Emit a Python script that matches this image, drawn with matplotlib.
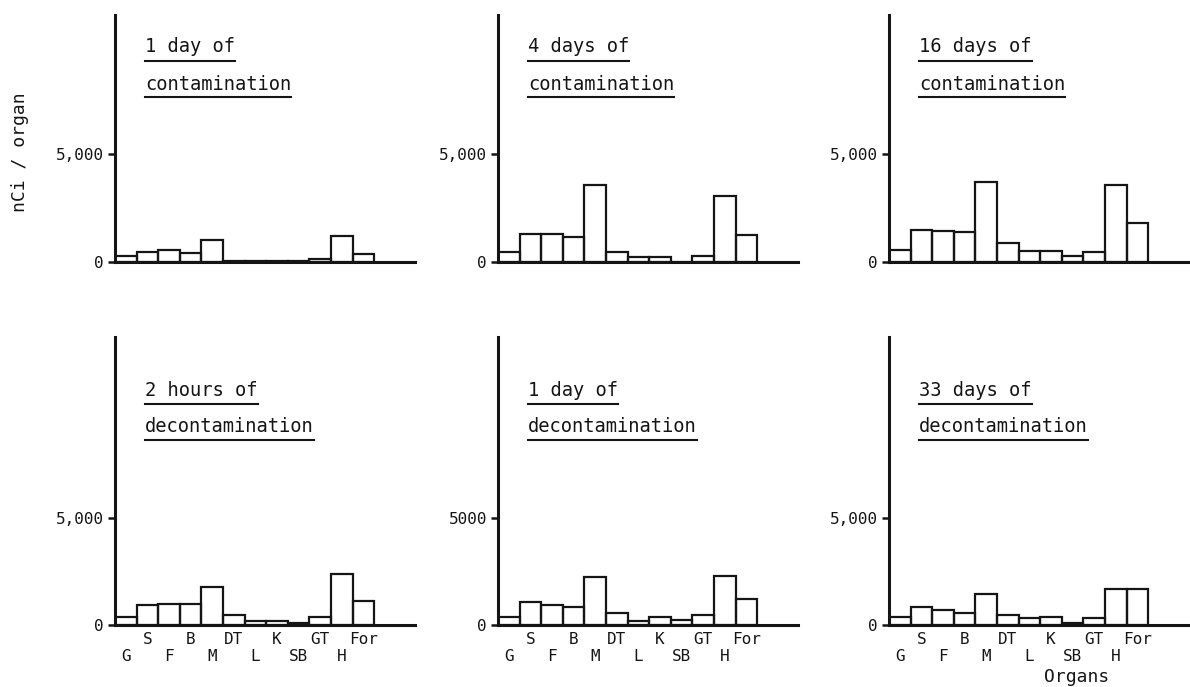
import matplotlib
matplotlib.use("Agg")
import matplotlib.pyplot as plt
from matplotlib.lines import Line2D

W, H = 1190, 687
INK = "#151515"
FONT = "DejaVu Sans Mono"

organs = ["G", "S", "F", "B", "M", "DT", "L", "K", "SB", "GT", "H", "For"]

# nCi per organ for each sampling time
contam_1d = [260, 460, 570, 430, 1040, 60, 50, 40, 40, 150, 1220, 390]
contam_4d = [470, 1300, 1300, 1150, 3550, 470, 220, 220, 0, 300, 3060, 1270]
contam_16d = [575, 1500, 1430, 1380, 3710, 885, 530, 530, 265, 465, 3560, 1790]
decontam_2h = [390, 915, 975, 975, 1755, 450, 200, 185, 110, 390, 2375, 1120]
decontam_1d = [390, 1055, 945, 855, 2220, 545, 200, 360, 235, 465, 2280, 1225]
decontam_33d = [390, 855, 700, 575, 1445, 465, 310, 390, 110, 310, 1660, 1660]

panels = [
    (contam_1d, "1 day of", "contamination", "5,000"),
    (contam_4d, "4 days of", "contamination", "5,000"),
    (contam_16d, "16 days of", "contamination", "5,000"),
    (decontam_2h, "2 hours of", "decontamination", "5,000"),
    (decontam_1d, "1 day of", "decontamination", "5000"),
    (decontam_33d, "33 days of", "decontamination", "5,000"),
]

# pixel layout: y-axis x position, baseline y, top of axis y
col_x = [115, 498, 889]
rows = [(262, 15, 108), (625, 337, 107.5)]   # baseline, top, px per 5000
ax_w = 300
bar_px = 21.6


def fx(x):
    return x / W


def fy(y):
    return (H - y) / H


fig = plt.figure(figsize=(W / 100, H / 100), dpi=100)
fig.patch.set_facecolor("white")

title_texts = []
for k, (vals, line1, line2, five) in enumerate(panels):
    r, c = divmod(k, 3)
    base, top, per5k = rows[r]
    x0 = col_x[c]
    ax = fig.add_axes([fx(x0), fy(base), ax_w / W, (base - top) / H])
    ax.set_facecolor("none")

    pos = [i + 0.5 for i in range(len(organs))]
    ax.bar(pos, vals, width=1.0, facecolor="none", edgecolor=INK,
           linewidth=1.6)
    ax.set_xlim(0, ax_w / bar_px)
    ax.set_ylim(0, 5000 * (base - top) / per5k)

    for side in ["top", "right"]:
        ax.spines[side].set_visible(False)
    for side in ["left", "bottom"]:
        ax.spines[side].set_linewidth(2.2)
        ax.spines[side].set_color(INK)

    ax.set_yticks([0, 5000])
    ax.set_yticklabels(["0", five], fontfamily=FONT, fontsize=11.5,
                       color=INK)
    ax.tick_params(axis="y", length=5, width=1.8, pad=3, colors=INK)

    if r == 1:
        ax.set_xticks(pos)
        ax.set_xticklabels([o if i % 2 else "\n" + o
                            for i, o in enumerate(organs)],
                           fontfamily=FONT, fontsize=11.5, color=INK,
                           linespacing=1.15)
        ax.tick_params(axis="x", length=0, pad=5)
    else:
        ax.set_xticks([])

    tx = x0 + 30
    ty1 = top + 32 if r == 0 else top + 53
    ty2 = ty1 + 37
    t1 = fig.text(fx(tx), fy(ty1), line1, fontfamily=FONT, fontsize=13.5,
                  color=INK, va="center", ha="left")
    t2 = fig.text(fx(tx), fy(ty2), line2, fontfamily=FONT, fontsize=13.5,
                  color=INK, va="center", ha="left")
    title_texts.append((t1, ty1 + 14))
    title_texts.append((t2, ty2 + 13))

fig.text(fx(20), fy(152), "nCi / organ", fontfamily=FONT, fontsize=13,
         color=INK, rotation=90, va="center", ha="center")
fig.text(fx(1077), fy(677), "Organs", fontfamily=FONT, fontsize=13,
         color=INK, va="center", ha="center")

# underline each heading to the width of its text
fig.canvas.draw()
renderer = fig.canvas.get_renderer()
for t, uy in title_texts:
    bb = t.get_window_extent(renderer)
    fig.add_artist(Line2D([bb.x0 / W, bb.x1 / W], [fy(uy), fy(uy)],
                          transform=fig.transFigure, color=INK,
                          linewidth=1.5))

fig.savefig("out.png", dpi=100, facecolor="white")
